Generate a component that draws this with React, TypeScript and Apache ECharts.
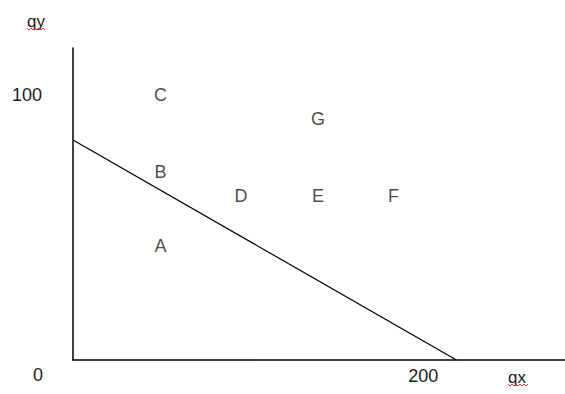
import React, { useEffect, useRef } from "react";
import * as echarts from "echarts";

const pointNames = ["A", "B", "C", "D", "E", "F", "G"];
const pointX = [50, 50, 50, 96, 140, 183, 140];
const pointY = [43, 71, 100, 62, 62, 62, 91];
const lineX = [0, 219];
const lineY = [83, 0];
const xTickValues = [200];
const yTickValues = [100];
const X_MAX = 281;
const Y_MAX = 117.7;

const FONT = "'Liberation Sans', Arial, sans-serif";
const TEXT_COLOR = "#1a1a1a";

function squiggle(x0: number, x1: number, y: number) {
  const pts: number[][] = [];
  let up = true;
  for (let x = x0; x <= x1; x += 2) {
    pts.push([x, up ? y : y + 2]);
    up = !up;
  }
  return pts;
}

export default function App() {
  const ref = useRef<HTMLDivElement>(null);
  useEffect(() => {
    document.body.style.margin = "0";
    if (!ref.current) return;
    const chart = echarts.init(ref.current, undefined, { renderer: "svg" });
    chart.setOption({
      animation: false,
      backgroundColor: "#ffffff",
      grid: { left: 73, right: 0, top: 48, bottom: 34, containLabel: false },
      xAxis: {
        type: "value",
        min: 0,
        max: X_MAX,
        axisLine: { show: true, onZero: false, lineStyle: { color: "#000", width: 1.5 } },
        axisTick: { show: false },
        splitLine: { show: false },
        axisLabel: {
          show: true,
          customValues: xTickValues,
          margin: 7,
          fontSize: 18,
          fontFamily: FONT,
          color: TEXT_COLOR,
        },
      },
      yAxis: {
        type: "value",
        min: 0,
        max: Y_MAX,
        axisLine: { show: true, onZero: false, lineStyle: { color: "#000", width: 1.5 } },
        axisTick: { show: false },
        splitLine: { show: false },
        axisLabel: {
          show: true,
          customValues: yTickValues,
          margin: 31,
          fontSize: 18,
          fontFamily: FONT,
          color: TEXT_COLOR,
        },
      },
      series: [
        {
          type: "line",
          data: lineX.map((x, i) => [x, lineY[i]]),
          symbol: "none",
          lineStyle: { color: "#000", width: 1.2 },
        },
        {
          type: "scatter",
          symbolSize: 0,
          data: pointNames.map((n, i) => ({ name: n, value: [pointX[i], pointY[i]] })),
          label: {
            show: true,
            position: "inside",
            formatter: (p: any) => p.name,
            fontSize: 18,
            fontFamily: FONT,
            color: TEXT_COLOR,
          },
        },
      ],
      graphic: [
        {
          type: "text",
          x: 38,
          y: 375,
          style: { text: "0", font: `18px ${FONT}`, fill: TEXT_COLOR, align: "center", verticalAlign: "middle" },
        },
        {
          type: "text",
          x: 36,
          y: 21,
          style: { text: "qy", font: `17px ${FONT}`, fill: TEXT_COLOR, align: "center", verticalAlign: "middle" },
        },
        {
          type: "text",
          x: 517,
          y: 377,
          style: { text: "qx", font: `17px ${FONT}`, fill: TEXT_COLOR, align: "center", verticalAlign: "middle" },
        },
        {
          type: "polyline",
          shape: { points: squiggle(27, 45, 28) },
          style: { stroke: "#e03030", lineWidth: 1, fill: null },
        },
        {
          type: "polyline",
          shape: { points: squiggle(508, 528, 384) },
          style: { stroke: "#e03030", lineWidth: 1, fill: null },
        },
      ],
    });
    return () => chart.dispose();
  }, []);
  return <div ref={ref} style={{ width: 565, height: 394 }} />;
}
